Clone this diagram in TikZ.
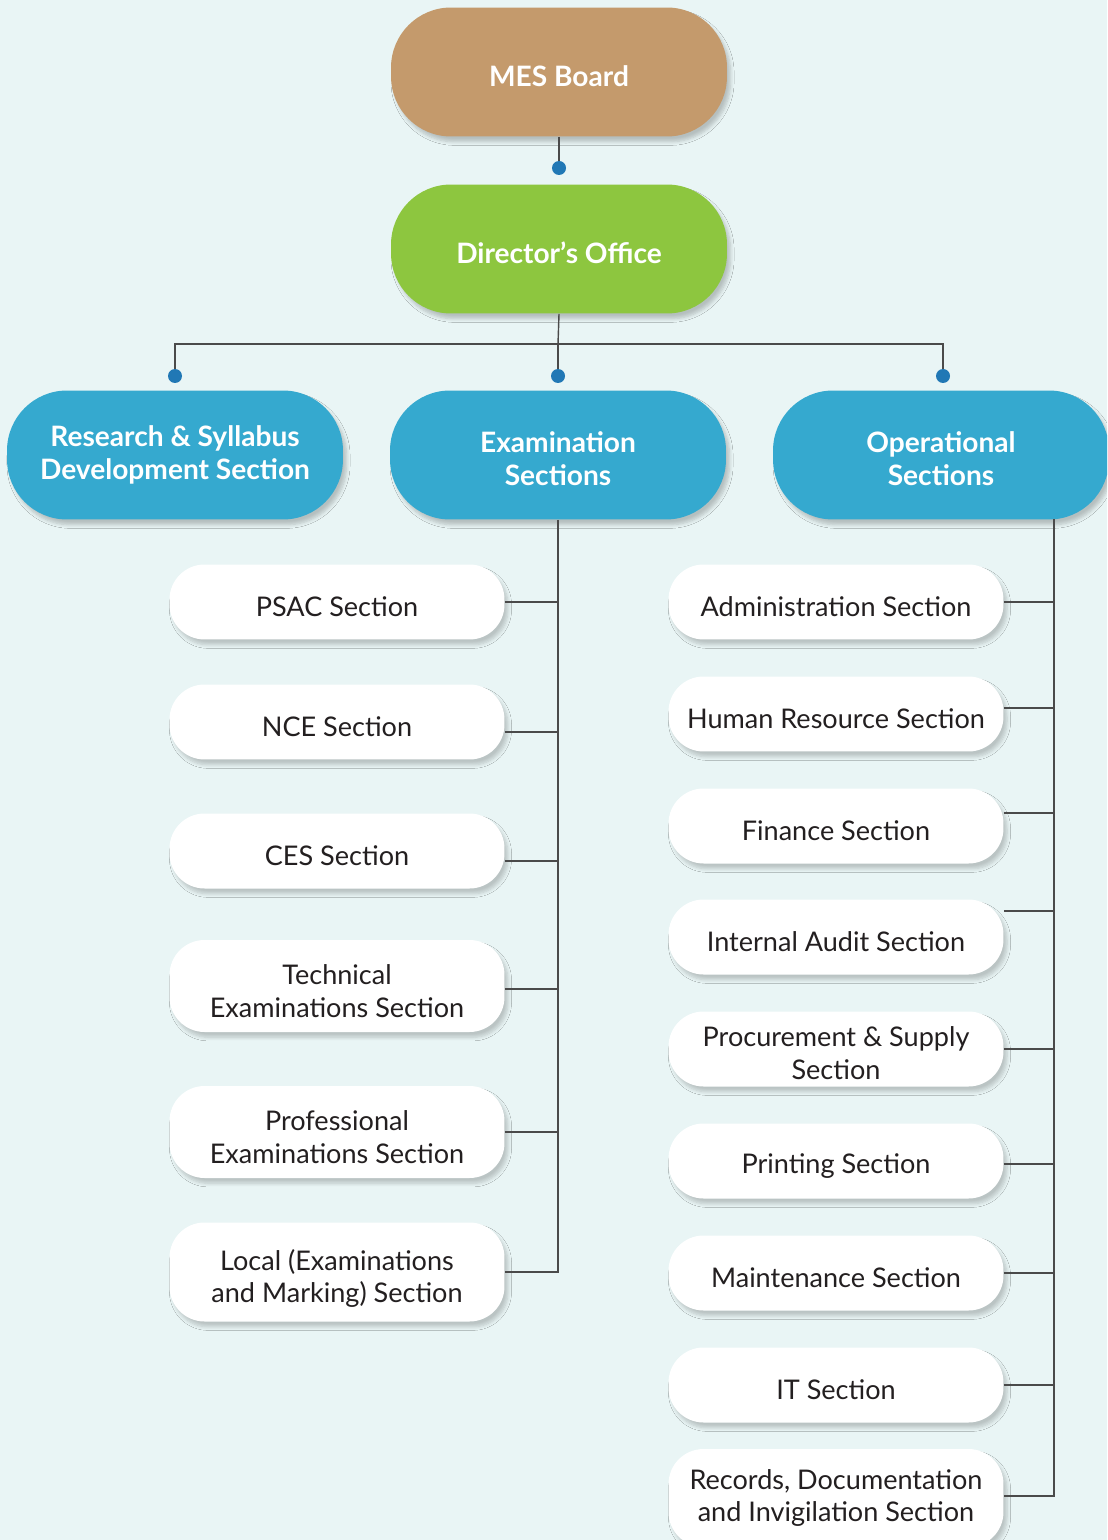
\documentclass[tikz,border=0pt]{standalone}
\usepackage{fontspec}
\setmainfont{Lato}
\usetikzlibrary{shadows.blur}
\definecolor{bgcol}{HTML}{E9F5F5}
\definecolor{boardcol}{HTML}{C49A6C}
\definecolor{dircol}{HTML}{8DC63F}
\definecolor{secol}{HTML}{35A9CF}
\definecolor{dotcol}{HTML}{2178B5}
\definecolor{linecol}{HTML}{4A4A4A}
\definecolor{txtcol}{HTML}{231F20}
\newcommand\boxstrut[1][16.5pt]{\rule{0pt}{#1}}
\begin{document}
\begin{tikzpicture}[x=0.02cm, y=-0.02cm,
  topbox/.style={rounded corners=1.2cm, minimum width=6.72cm, minimum height=2.58cm,
    text=white, align=center, font=\fontsize{16}{18.5}\selectfont\bfseries,
    execute at begin node=\boxstrut,
    blur shadow={shadow xshift=2pt, shadow yshift=-3pt, shadow opacity=22, shadow blur steps=6}},
  subbox/.style={fill=white, rounded corners=0.7cm, minimum width=6.7cm, minimum height=1.5cm,
    text=txtcol, align=center, font=\fontsize{15.4}{18.5}\selectfont,
    execute at begin node=\boxstrut,
    blur shadow={shadow xshift=2pt, shadow yshift=-3pt, shadow opacity=20, shadow blur steps=6}},
  tallbox/.style={subbox, minimum height=1.84cm},
  dot/.style={circle, fill=dotcol, inner sep=0pt, minimum size=0.28cm},
  conn/.style={draw=linecol, line width=0.8pt}]

\fill[bgcol] (0,0) rectangle (1107,1540);
\clip (0,0) rectangle (1107,1540);

\node[topbox, fill=boardcol] (mes) at (559,72) {MES Board};
\node[topbox, fill=dircol] (dir) at (559,249) {Director's Office};

\node[topbox, fill=secol] (rsd) at (175,455) {Research \& Syllabus\\Development Section};
\node[topbox, fill=secol] (exam) at (558,455) {\boxstrut[16pt]Examination\\Sections};
\node[topbox, fill=secol] (ops) at (941,455) {\boxstrut[16pt]Operational\\Sections};

\node[dot] (d0) at (559,168) {};
\node[dot] (d1) at (175,376) {};
\node[dot] (d2) at (558,376) {};
\node[dot] (d3) at (943,376) {};
\coordinate (bus) at (558,344);
\coordinate (opbus) at (1054,519);

\node[subbox] (psac) at (337,602) {PSAC Section};
\node[subbox] (nce) at (337,722) {NCE Section};
\node[subbox] (ces) at (337,851) {CES Section};
\node[tallbox] (tech) at (337,986) {\boxstrut[17pt]Technical\\Examinations Section};
\node[tallbox] (prof) at (337,1132) {\boxstrut[17pt]Professional\\Examinations Section};
\node[tallbox, minimum height=1.98cm] (local) at (337,1272) {\boxstrut[19.5pt]Local (Examinations\\and Marking) Section};

\node[subbox] (admin) at (836,602) {Administration Section};
\node[subbox] (hr) at (836,714) {Human Resource Section};
\node[subbox] (fin) at (836,826) {Finance Section};
\node[subbox] (audit) at (836,937) {Internal Audit Section};
\node[subbox] (proc) at (836,1049) {\boxstrut[16pt]Procurement \& Supply\\Section};
\node[subbox] (print) at (836,1161) {Printing Section};
\node[subbox] (maint) at (836,1273) {Maintenance Section};
\node[subbox] (it) at (836,1385) {IT Section};
\node[tallbox, minimum height=1.96cm] (rec) at (836,1498) {Records, Documentation\\and Invigilation Section};

\draw[conn] (mes.south) -- (d0);
\draw[conn] (dir.south) -- (bus);
\draw[conn] (d1) |- (bus) -| (d3);
\draw[conn] (bus) -- (d2);

\draw[conn] (exam.south) |- (local.east);
\draw[conn] (psac.east) -- (psac.east -| exam.south);
\draw[conn] ([yshift=-0.2cm]nce.east) -- ([yshift=-0.2cm]nce.east -| exam.south);
\draw[conn] ([yshift=-0.2cm]ces.east) -- ([yshift=-0.2cm]ces.east -| exam.south);
\draw[conn] ([yshift=-0.06cm]tech.east) -- ([yshift=-0.06cm]tech.east -| exam.south);
\draw[conn] (prof.east) -- (prof.east -| exam.south);

\draw[conn] (opbus) |- ([yshift=0.04cm]rec.east);
\draw[conn] (admin.east) -- (admin.east -| opbus);
\draw[conn] ([yshift=0.12cm]hr.east) -- ([yshift=0.12cm]hr.east -| opbus);
\draw[conn] ([yshift=0.26cm]fin.east) -- ([yshift=0.26cm]fin.east -| opbus);
\draw[conn] ([yshift=0.52cm]audit.east) -- ([yshift=0.52cm]audit.east -| opbus);
\draw[conn] (proc.east) -- (proc.east -| opbus);
\draw[conn] ([yshift=-0.06cm]print.east) -- ([yshift=-0.06cm]print.east -| opbus);
\draw[conn] (maint.east) -- (maint.east -| opbus);
\draw[conn] (it.east) -- (it.east -| opbus);

\end{tikzpicture}
\end{document}
